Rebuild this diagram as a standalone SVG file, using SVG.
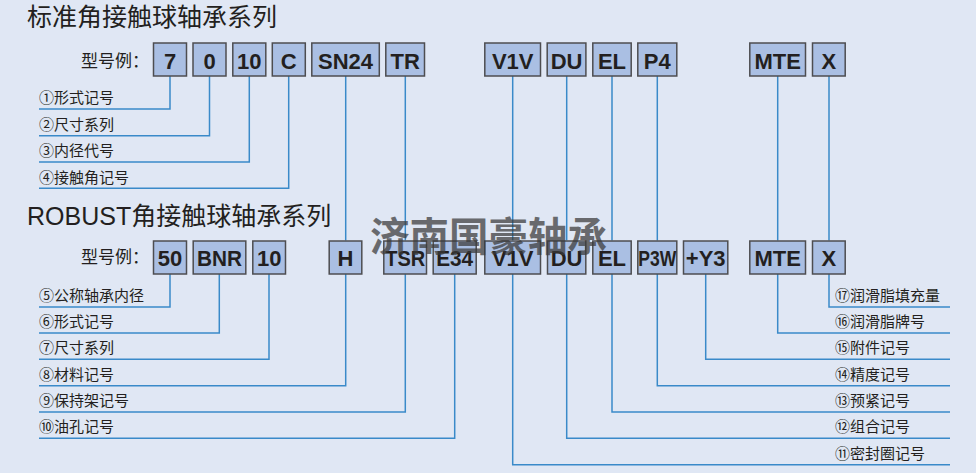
<svg xmlns="http://www.w3.org/2000/svg" width="976" height="473" viewBox="0 0 976 473">
<style>
.bg{fill:#e0e7f4}
.box rect{fill:#aabfe3;stroke:#4d4d50;stroke-width:1.5}
.box text{font-family:"Liberation Sans",Arial,sans-serif;font-weight:bold;font-size:22px;fill:#231f20;text-anchor:middle}
.title{font-family:"Liberation Sans","Noto Sans CJK SC",sans-serif;font-size:25px;fill:#231f20}
.ex{font-family:"Noto Sans CJK SC",sans-serif;font-size:17px;fill:#231f20}
.lbl{font-family:"Noto Sans CJK SC",sans-serif;font-size:15px;fill:#231f20}
.conn path{fill:none;stroke:#3a8ac9;stroke-width:1.5}
.wm{font-family:"Noto Sans CJK SC",sans-serif;font-weight:bold;font-size:40px;fill:#3a3a3a;opacity:0.72}
</style>
<rect class="bg" x="0" y="0" width="976" height="473"/>

<g id="titles">
<text class="title" x="27" y="26">标准角接触球轴承系列</text>
<text class="title" x="27" y="225">ROBUST角接触球轴承系列</text>
<text class="ex" x="81" y="67">型号例：</text>
<text class="ex" x="81" y="263">型号例：</text>
</g>

<g id="connectors" class="conn">
<!-- row 1 left -->
<path d="M170,76 V109 H39"/>
<path d="M209.5,76 V135.7 H39"/>
<path d="M249.3,76 V162 H39"/>
<path d="M288.7,76 V188.3 H39"/>
<!-- row1 to row2 -->
<path d="M345.7,76 V240.5"/>
<path d="M405.3,76 V240.5"/>
<path d="M512.7,76 V240.5"/>
<path d="M566.7,76 V240.5"/>
<path d="M612,76 V240.5"/>
<path d="M657.3,76 V240.5"/>
<path d="M777.7,76 V240.5"/>
<path d="M829,76 V240.5"/>
<!-- row 2 left -->
<path d="M170,274 V307 H39"/>
<path d="M219.3,274 V333 H39"/>
<path d="M269,274 V359.3 H39"/>
<path d="M345.7,274 V385.7 H39"/>
<path d="M405.3,274 V412 H39"/>
<path d="M454.7,274 V438.3 H39"/>
<!-- row 2 right -->
<path d="M829,274 V307 H950"/>
<path d="M777.7,274 V333 H950"/>
<path d="M705.7,274 V359.3 H950"/>
<path d="M657.3,274 V385.7 H950"/>
<path d="M612,274 V412 H950"/>
<path d="M566.7,274 V438.3 H950"/>
<path d="M512.7,274 V464.7 H950"/>
</g>

<g id="labels">
<text class="lbl" x="39" y="103">①形式记号</text>
<text class="lbl" x="39" y="129.5">②尺寸系列</text>
<text class="lbl" x="39" y="156">③内径代号</text>
<text class="lbl" x="39" y="182.5">④接触角记号</text>
<text class="lbl" x="39" y="301">⑤公称轴承内径</text>
<text class="lbl" x="39" y="327">⑥形式记号</text>
<text class="lbl" x="39" y="353.3">⑦尺寸系列</text>
<text class="lbl" x="39" y="379.7">⑧材料记号</text>
<text class="lbl" x="39" y="406">⑨保持架记号</text>
<text class="lbl" x="39" y="432.3">⑩油孔记号</text>
<text class="lbl" x="835" y="301">⑰润滑脂填充量</text>
<text class="lbl" x="835" y="327">⑯润滑脂牌号</text>
<text class="lbl" x="835" y="353.3">⑮附件记号</text>
<text class="lbl" x="835" y="379.7">⑭精度记号</text>
<text class="lbl" x="835" y="406">⑬预紧记号</text>
<text class="lbl" x="835" y="432.3">⑫组合记号</text>
<text class="lbl" x="835" y="458.7">⑪密封圈记号</text>
</g>

<!-- row 1 boxes -->
<g id="r1-7" class="box"><rect x="153.5" y="43" width="33" height="33"/><text x="170" y="69">7</text></g>
<g id="r1-0" class="box"><rect x="193" y="43" width="33" height="33"/><text x="209.5" y="69">0</text></g>
<g id="r1-10" class="box"><rect x="232.8" y="43" width="33" height="33"/><text x="249.3" y="69">10</text></g>
<g id="r1-C" class="box"><rect x="272.3" y="43" width="33" height="33"/><text x="288.8" y="69">C</text></g>
<g id="r1-SN24" class="box"><rect x="311.8" y="43" width="67.5" height="33"/><text x="345.5" y="69">SN24</text></g>
<g id="r1-TR" class="box"><rect x="385.8" y="43" width="38.7" height="33"/><text x="405.2" y="69">TR</text></g>
<g id="r1-V1V" class="box"><rect x="484.8" y="43" width="55.7" height="33"/><text x="512.7" y="69">V1V</text></g>
<g id="r1-DU" class="box"><rect x="547.2" y="43" width="38.7" height="33"/><text x="566.6" y="69">DU</text></g>
<g id="r1-EL" class="box"><rect x="592.8" y="43" width="38.4" height="33"/><text x="612" y="69">EL</text></g>
<g id="r1-P4" class="box"><rect x="637.8" y="43" width="39" height="33"/><text x="657.3" y="69">P4</text></g>
<g id="r1-MTE" class="box"><rect x="749.8" y="43" width="55.7" height="33"/><text x="777.7" y="69">MTE</text></g>
<g id="r1-X" class="box"><rect x="812.5" y="43" width="32.7" height="33"/><text x="828.9" y="69">X</text></g>

<!-- row 2 boxes -->
<g id="r2-50" class="box"><rect x="153.5" y="241" width="33" height="33"/><text x="170" y="266">50</text></g>
<g id="r2-BNR" class="box"><rect x="193.2" y="241" width="52.6" height="33"/><text x="219.5" y="266" textLength="45" lengthAdjust="spacingAndGlyphs">BNR</text></g>
<g id="r2-10" class="box"><rect x="252.8" y="241" width="32.7" height="33"/><text x="269.2" y="266">10</text></g>
<g id="r2-H" class="box"><rect x="329.2" y="241" width="32.6" height="33"/><text x="345.5" y="266">H</text></g>
<g id="r2-TSR" class="box"><rect x="383.8" y="241" width="42.7" height="33"/><text x="405.2" y="266" textLength="40" lengthAdjust="spacingAndGlyphs">TSR</text></g>
<g id="r2-E34" class="box"><rect x="433.2" y="241" width="43" height="33"/><text x="454.7" y="266" textLength="37" lengthAdjust="spacingAndGlyphs">E34</text></g>
<g id="r2-V1V" class="box"><rect x="484.8" y="241" width="55.7" height="33"/><text x="512.7" y="266">V1V</text></g>
<g id="r2-DU" class="box"><rect x="547.5" y="241" width="38.3" height="33"/><text x="566.6" y="266">DU</text></g>
<g id="r2-EL" class="box"><rect x="592.8" y="241" width="38.4" height="33"/><text x="612" y="266">EL</text></g>
<g id="r2-P3W" class="box"><rect x="637.8" y="241" width="39" height="33"/><text x="657.3" y="266" textLength="38" lengthAdjust="spacingAndGlyphs">P3W</text></g>
<g id="r2-Y3" class="box"><rect x="683.5" y="241" width="44.3" height="33"/><text x="705.7" y="266">+Y3</text></g>
<g id="r2-MTE" class="box"><rect x="749.8" y="241" width="55.7" height="33"/><text x="777.7" y="266">MTE</text></g>
<g id="r2-X" class="box"><rect x="812.5" y="241" width="32.7" height="33"/><text x="828.9" y="266">X</text></g>

<g id="watermark">
<text class="wm" x="370" y="251" textLength="237" lengthAdjust="spacingAndGlyphs">济南国豪轴承</text>
</g>
</svg>
